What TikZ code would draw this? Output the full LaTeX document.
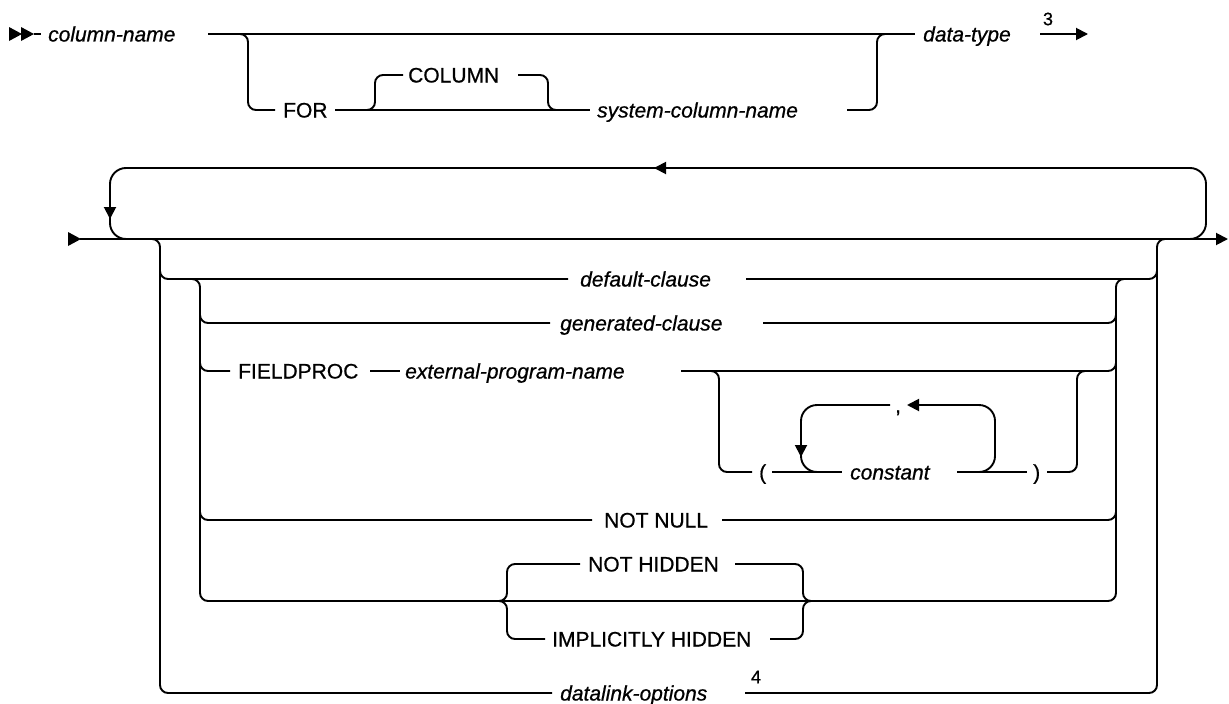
\documentclass[tikz,border=0pt]{standalone}
\usepackage{fontspec}
\setmainfont{Liberation Sans}
\newfontfamily\railfont{Liberation Sans}[FakeBold=0.7]
\usetikzlibrary{arrows.meta}
\tikzset{
  rail/.style={line width=1.9pt, rounded corners=8pt},
  loopline/.style={line width=1.9pt, rounded corners=16pt},
  kw/.style={inner sep=0pt, text height=15pt, text depth=0pt, anchor=west, font=\railfont\fontsize{21}{24}\selectfont},
  var/.style={kw, font=\railfont\fontsize{21}{24}\selectfont\itshape},
  note/.style={inner sep=0pt, font=\railfont\fontsize{18}{20}\selectfont},
  tipline/.style={line width=1.9pt, -{Triangle[length=12pt,width=12pt]}},
}
\begin{document}
\begin{tikzpicture}[x=1pt,y=-1pt]
\useasboundingbox (0,0) rectangle (1229,704);
% ---------- row 1
\fill (9,27) -- (22,34) -- (9,41) -- cycle;
\fill (21,27) -- (34,34) -- (21,41) -- cycle;
\draw[rail] (34,34) -- (41,34);
\node[var] (colname) at (48,34) {column-name};
\draw[rail] (208,34) -- (915,34);
\node[var] (dtype) at (923,34) {data-type};
\draw[rail] (232,34) -| (248,110) -- (275,110);
\node[kw] (for) at (283,110) {FOR};
\draw[rail] (335,110) -- (590,110);
\draw[rail] (360,110) -| (375,75) -- (403,75);
\node[kw] (col) at (408,75) {COLUMN};
\draw[rail] (518,75) -| (548,110) -- (560,110);
\node[var] (scn) at (597,110) {system-column-name};
\draw[rail] (847,110) -| (877,34) -- (890,34);
\draw[tipline] (1040,34) -- (1088,34);
\node[note] (n3) at (1048,19) {3};
% ---------- row 2
\fill (68,232) -- (81,239) -- (68,246) -- cycle;
\draw[tipline] (80,239) -- (1228,239);
\draw[loopline] (1180,239) -| (1206,168) -| (110,239) -- (140,239);
\draw[tipline] (110,190) -- (110,219);
\draw[tipline] (690,168) -- (654,168);
% outer bracket
\draw[rail] (145,239) -| (160,693) -- (552,693);
\node[var] (dlo) at (560,693) {datalink-options};
\node[note] (n4) at (756,677) {4};
\draw[rail] (745,693) -| (1157,239) -- (1175,239);
% default clause line
\draw[rail] (160,260) |- (568,279);
\node[var] (dc) at (580,279) {default-clause};
\draw[rail] (746,279) -| (1157,260);
% inner bracket
\draw[rail] (185,279) -| (200,601) -- (1100,601);
\draw[rail] (1095,601) -| (1116,279) -- (1132,279);
% generated
\draw[rail] (200,310) |- (550,323);
\node[var] (gc) at (560,323) {generated-clause};
\draw[rail] (763,323) -| (1116,310);
% fieldproc
\draw[rail] (200,355) |- (230,371);
\node[kw] (fp) at (238,371) {FIELDPROC};
\draw[rail] (370,371) -- (400,371);
\node[var] (epn) at (405,371) {external-program-name};
\draw[rail] (681,371) -- (1100,371) -| (1116,355);
\draw[rail] (705,371) -| (719,472) -- (752,472);
\node[kw] (lp) at (759,472) {(};
\draw[rail] (772,472) -- (842,472);
\node[var] (cst) at (850,472) {constant};
\draw[rail] (957,472) -- (1027,472);
\node[kw] (rp) at (1033,472) {)};
\draw[rail] (1047,472) -| (1077,371) -- (1090,371);
\draw[loopline] (970,472) -| (995,405) -- (915,405);
\draw[tipline] (927,405) -- (907,405);
\node[kw] (comma) at (895,405) {,};
\draw[loopline] (890,405) -| (801,472) -- (830,472);
\draw[tipline] (801,430) -- (801,457);
% not null
\draw[rail] (200,505) |- (592,520);
\node[kw] (nn) at (604,520) {NOT NULL};
\draw[rail] (722,520) -| (1116,505);
% hidden
\draw[rail] (498,601) -| (507,564) -- (580,564);
\draw[rail] (498,601) -| (507,639) -- (545,639);
\node[kw] (nh) at (588,564) {NOT HIDDEN};
\node[kw] (ih) at (552,639) {IMPLICITLY HIDDEN};
\draw[rail] (735,564) -| (803,601) -- (812,601);
\draw[rail] (770,639) -| (803,601) -- (812,601);
\end{tikzpicture}
\end{document}
